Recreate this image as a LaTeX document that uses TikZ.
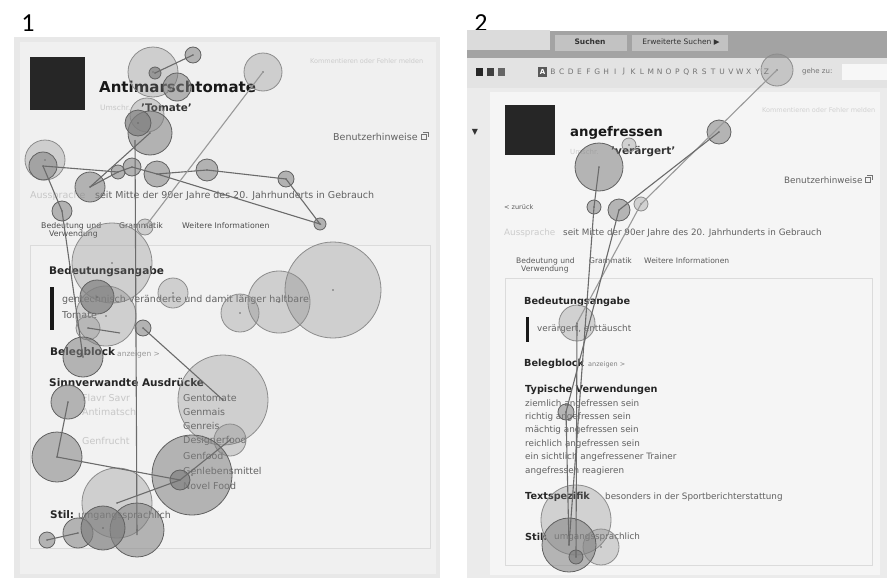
\documentclass[tikz,border=0pt]{standalone}
\usepackage{fontspec}
\setmainfont{DejaVu Sans}
\newfontfamily\lblfont{Carlito}
\newcommand\fixpt[5]{\node[#5,minimum size={2*#4pt}] (#1) at (#2,#3) {};\fill[black!60] (#1.center) circle (0.9);}
\tikzset{
 fx/.style={circle,inner sep=0pt,draw=black!62,line width=0.8pt,fill=black!50,fill opacity=0.55},
 fxl/.style={fx,fill opacity=0.3,draw=black!45},
 fxd/.style={fx,fill opacity=0.7},
 sac/.style={draw=black!58,line width=1.1pt},
 txt/.style={anchor=west,inner sep=0pt,font=\fontsize{9.5}{11}\selectfont,text=black!62},
 stxt/.style={anchor=west,inner sep=0pt,font=\fontsize{8.8}{10}\selectfont,text=black!62},
 faint/.style={txt,text=black!22},
 hd/.style={anchor=west,inner sep=0pt,font=\bfseries\fontsize{10.5}{12}\selectfont,text=black!85},
 shd/.style={anchor=west,inner sep=0pt,font=\bfseries\fontsize{9.7}{11}\selectfont,text=black!85},
 tab/.style={anchor=west,inner sep=0pt,font=\fontsize{7.8}{9}\selectfont,text=black!70},
 tab2/.style={anchor=west,inner sep=0pt,font=\fontsize{7.6}{9}\selectfont,text=black!65},
 num/.style={anchor=center,inner sep=0pt,font=\lblfont\fontsize{26}{28}\selectfont},
 letter/.style={anchor=center,inner sep=0pt,font=\fontsize{7.5}{8}\selectfont,text=black!55},
 icon/.style={draw=black!55,line width=0.6pt},
}
\begin{document}
\begin{tikzpicture}[x=1pt,y=-1pt]
\useasboundingbox (0,0) rectangle (887,581);
\fill[white] (0,0) rectangle (887,581);
% ---------- labels
\node[num] (n1) at (28,23) {1};
\node[num] (n2) at (481,23) {2};
% ---------- panel 1 background
\fill[black!9] (14,37) rectangle (440,578);
\fill[black!6] (20,42) rectangle (436,574);
\draw[black!14,fill=black!5] (30,245) rectangle (430,548);
\fill[black!85] (30,57) rectangle (85,110);
\node[anchor=west,inner sep=0pt,font=\bfseries\fontsize{15}{17}\selectfont,text=black!90] (t1) at (99,87) {Antimarschtomate};
\node[faint,font=\fontsize{7.5}{8}\selectfont] (t1u) at (100,108) {Umschr.};
\node[anchor=west,inner sep=0pt,font=\bfseries\fontsize{10.4}{12}\selectfont,text=black!80] (t1b) at (141,108) {'Tomate'};
\node[stxt,text=black!20,font=\fontsize{6.5}{7}\selectfont] (t1k) at (310,61) {Kommentieren oder Fehler melden};
\node[txt] (t1h) at (333,137) {Benutzerhinweise};
\draw[icon] (421,134) rectangle (426,139) (423,132) -- (428,132) -- (428,137);
\node[faint] (t1a) at (30,196) {Aussprache};
\node[txt] (t1s) at (95,196) {seit Mitte der 90er Jahre des 20. Jahrhunderts in Gebrauch};
\node[tab] (tb1) at (41,226) {Bedeutung und};
\node[tab] (tb2) at (49,234) {Verwendung};
\node[tab] (tb3) at (119,226) {Grammatik};
\node[tab] (tb4) at (182,226) {Weitere Informationen};
\node[hd] (h1) at (49,272) {Bedeutungsangabe};
\fill[black!90] (50,287) rectangle (54,330);
\node[txt] (g1) at (62,300) {gentechnisch veränderte und damit länger haltbare};
\node[txt] (g2) at (62,315) {Tomate};
\node[hd] (h2) at (50,353) {Belegblock};
\node[txt,text=black!40,font=\fontsize{7.5}{8}\selectfont] (h2a) at (117,354) {anzeigen >};
\node[hd] (h3) at (49,383) {Sinnverwandte Ausdrücke};
\node[faint] (l1) at (82,398) {Flavr Savr};
\node[faint] (l2) at (82,412) {Antimatsch};
\node[faint] (l3) at (82,441) {Genfrucht};
\node[txt] (r1) at (183,398) {Gentomate};
\node[txt] (r2) at (183,412) {Genmais};
\node[txt] (r3) at (183,426) {Genreis};
\node[txt] (r4) at (183,441) {Designerfood};
\node[txt] (r5) at (183,456) {Genfood};
\node[txt] (r6) at (183,471) {Genlebensmittel};
\node[txt] (r7) at (183,486) {Novel Food};
\node[hd] (h4) at (50,515) {Stil:};
\node[txt] (h4a) at (78,516) {umgangssprachlich};
% ---------- panel 2 background
\fill[black!14] (467,30) rectangle (550,50);
\fill[black!36] (467,50) rectangle (887,58);
\fill[black!36] (550,31) rectangle (887,58);
\fill[black!24] (555,35) rectangle (627,51);
\fill[black!24] (632,35) rectangle (728,51);
\node[anchor=center,inner sep=0pt,font=\bfseries\fontsize{7.5}{8}\selectfont,text=black!80] (s1) at (590,42) {Suchen};
\node[anchor=center,inner sep=0pt,font=\fontsize{7.5}{8}\selectfont,text=black!80] (s2) at (681,42) {Erweiterte Suchen ▶};
\fill[black!11] (467,58) rectangle (887,88);
\fill[black!85] (476,68) rectangle (483,76);
\fill[black!75] (487,68) rectangle (494,76);
\fill[black!60] (498,68) rectangle (505,76);
\fill[black!65] (538,67) rectangle (547,77);
\node[anchor=center,inner sep=0pt,font=\bfseries\fontsize{7}{8}\selectfont,text=white] (sa) at (542.5,72) {A};
\foreach \l [count=\i] in {B,C,D,E,F,G,H,I,J,K,L,M,N,O,P,Q,R,S,T,U,V,W,X,Y,Z}
  \node[letter] (al\i) at (544+\i*8.9,72) {\l};
\node[anchor=west,inner sep=0pt,font=\fontsize{7}{8}\selectfont,text=black!55] (sg) at (802,72) {gehe zu:};
\fill[black!3] (842,64) rectangle (887,80);
\fill[black!8] (467,88) rectangle (887,578);
\fill[black!4] (490,92) rectangle (880,575);
\draw[black!14,fill=black!4] (505,278) rectangle (872,565);
\node[anchor=center,inner sep=0pt,font=\fontsize{8}{9}\selectfont,text=black!80] (tri) at (475,132) {▼};
\fill[black!85] (505,105) rectangle (555,155);
\node[anchor=west,inner sep=0pt,font=\bfseries\fontsize{13.3}{15}\selectfont,text=black!90] (t2) at (570,133) {angefressen};
\node[stxt,text=black!20,font=\fontsize{7}{8}\selectfont] (t2u) at (570,152) {Umschr.};
\node[anchor=west,inner sep=0pt,font=\bfseries\fontsize{10.5}{12}\selectfont,text=black!80] (t2b) at (611,152) {'verärgert'};
\node[stxt,text=black!18,font=\fontsize{6.5}{7}\selectfont] (t2k) at (762,110) {Kommentieren oder Fehler melden};
\node[stxt] (t2h) at (784,180) {Benutzerhinweise};
\draw[icon] (865,177) rectangle (870,182) (867,175) -- (872,175) -- (872,180);
\node[anchor=west,inner sep=0pt,font=\fontsize{6.5}{7}\selectfont,text=black!65] (t2z) at (504,207) {< zurück};
\node[stxt,text=black!20] (t2a) at (504,233) {Aussprache};
\node[stxt] (t2s) at (563,233) {seit Mitte der 90er Jahre des 20. Jahrhunderts in Gebrauch};
\node[tab2] (u1) at (516,261) {Bedeutung und};
\node[tab2] (u2) at (521,269) {Verwendung};
\node[tab2] (u3) at (589,261) {Grammatik};
\node[tab2] (u4) at (644,261) {Weitere Informationen};
\node[shd] (k1) at (524,302) {Bedeutungsangabe};
\fill[black!90] (526,317) rectangle (529,342);
\node[stxt] (k1a) at (537,329) {verärgert, enttäuscht};
\node[shd] (k2) at (524,364) {Belegblock};
\node[anchor=west,inner sep=0pt,font=\fontsize{6.5}{7}\selectfont,text=black!50] (k2a) at (588,365) {anzeigen >};
\node[shd] (k3) at (525,390) {Typische Verwendungen};
\node[stxt] (v1) at (525,404) {ziemlich angefressen sein};
\node[stxt] (v2) at (525,417) {richtig angefressen sein};
\node[stxt] (v3) at (525,430) {mächtig angefressen sein};
\node[stxt] (v4) at (525,444) {reichlich angefressen sein};
\node[stxt] (v5) at (525,457) {ein sichtlich angefressener Trainer};
\node[stxt] (v6) at (525,471) {angefressen reagieren};
\node[shd] (k4) at (525,497) {Textspezifik};
\node[stxt] (k4a) at (605,497) {besonders in der Sportberichterstattung};
\node[shd] (k5) at (525,537) {Stil:};
\node[stxt] (k5a) at (554,537) {umgangssprachlich};
% ---------- panel 1 fixations
\fixpt{a1}{153}{72}{25}{fxl}
\fixpt{a5}{263}{72}{19}{fxl}
\fixpt{a4}{177}{87}{14}{fx}
\fixpt{a3}{155}{73}{6}{fxd}
\fixpt{a2}{193}{55}{8}{fx}
\fixpt{a6}{147}{115}{17}{fxl}
\fixpt{a8}{150}{133}{22}{fx}
\fixpt{a7}{138}{123}{13}{fxd}
\fixpt{a9}{45}{160}{20}{fxl}
\fixpt{a10}{43}{166}{14}{fx}
\fixpt{a11}{90}{187}{15}{fx}
\fixpt{a12}{118}{172}{7}{fx}
\fixpt{a13}{132}{167}{9}{fx}
\fixpt{a14}{157}{174}{13}{fx}
\fixpt{a15}{207}{170}{11}{fx}
\fixpt{a16}{286}{179}{8}{fx}
\fixpt{a17}{320}{224}{6}{fx}
\fixpt{a18}{62}{211}{10}{fx}
\fixpt{a19}{145}{227}{8}{fxl}
\fixpt{a20}{112}{263}{40}{fxl}
\fixpt{a21}{333}{290}{48}{fxl}
\fixpt{a22}{279}{302}{31}{fxl}
\fixpt{a23}{240}{313}{19}{fxl}
\fixpt{a24}{173}{293}{15}{fxl}
\fixpt{a26}{106}{316}{30}{fxl}
\fixpt{a25}{97}{297}{17}{fxd}
\fixpt{a40}{88}{328}{12}{fxl}
\fixpt{a27}{143}{328}{8}{fx}
\fixpt{a28}{83}{357}{20}{fx}
\fixpt{a29}{223}{400}{45}{fxl}
\fixpt{a30}{230}{440}{16}{fxl}
\fixpt{a31}{68}{402}{17}{fx}
\fixpt{a32}{57}{457}{25}{fx}
\fixpt{a33}{192}{475}{40}{fx}
\fixpt{a34}{180}{480}{10}{fxd}
\fixpt{a35}{117}{503}{35}{fxl}
\fixpt{a38}{78}{533}{15}{fx}
\fixpt{a37}{137}{530}{27}{fx}
\fixpt{a36}{103}{528}{22}{fxd}
\fixpt{a39}{47}{540}{8}{fx}
\coordinate (p1) at (135,140);
\coordinate (p2) at (137,535);
\coordinate (p3) at (120,333);
% saccades panel 1
\draw[sac] (a3.center) -- (a2.center);
\draw[sac] (a10.center) -- (a12.center) -- (a13.center) -- (a14.center) -- (a15.center) -- (a16.center) -- (a17.center) -- (a14.center);
\draw[sac] (a11.center) -- (a12.center);
\draw[sac] (a11.center) -- (a8.center);
\draw[sac] (p1) -- (p2);
\draw[sac,draw=black!40] (a19.center) -- (a5.center);
\draw[sac] (a10.center) -- (a18.center) -- (a28.center);
\draw[sac] (a40.center) -- (p3);
\draw[sac] (a27.center) -- (a29.center);
\draw[sac] (a31.center) -- (a32.center) -- (a34.center);
\draw[sac] (a30.center) -- (a34.center) -- (a35.center);
\draw[sac] (a39.center) -- (a38.center);
% ---------- panel 2 fixations
\fixpt{b1}{777}{70}{16}{fxl}
\fixpt{b2}{719}{132}{12}{fx}
\fixpt{b4}{629}{145}{7}{fxl}
\fixpt{b3}{599}{167}{24}{fx}
\fixpt{b5}{594}{207}{7}{fx}
\fixpt{b6}{619}{210}{11}{fx}
\fixpt{b7}{641}{204}{7}{fxl}
\fixpt{b8}{577}{323}{18}{fxl}
\fixpt{b9}{566}{412}{8}{fx}
\fixpt{b10}{576}{520}{35}{fxl}
\fixpt{b12}{601}{547}{18}{fxl}
\fixpt{b11}{569}{545}{27}{fx}
\fixpt{b13}{576}{557}{7}{fxd}
% saccades panel 2
\draw[sac,draw=black!40] (b1.center) -- (b7.center) -- (b8.center);
\draw[sac] (b2.center) -- (b6.center) -- (b9.center) -- (b11.center);
\draw[sac] (b3.center) -- (b5.center) -- (b11.center);
\draw[sac] (b8.center) -- (b13.center);
\end{tikzpicture}
\end{document}
